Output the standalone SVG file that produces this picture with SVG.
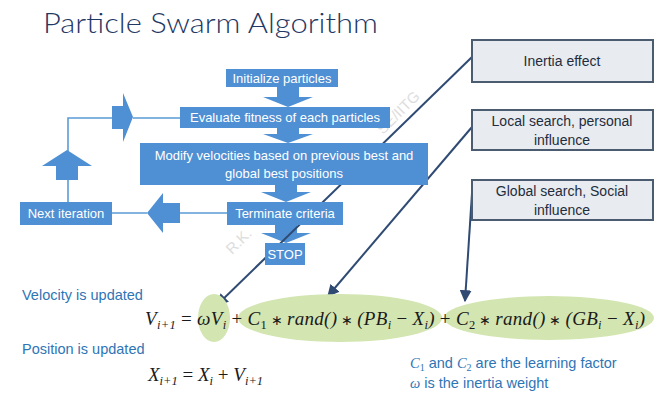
<svg xmlns="http://www.w3.org/2000/svg" width="661" height="396" viewBox="0 0 661 396">
<style>
.fc{fill:#4f8fd3}
.ft{font-family:"Liberation Sans",Arial,sans-serif;font-size:13px;fill:#ffffff;text-anchor:middle}
.loop{stroke:#5b9bd5;stroke-width:1.6;fill:none}
.cbox{fill:#e8ebf0;stroke:#4b5b70;stroke-width:2}
.ct{font-family:"Liberation Sans",Arial,sans-serif;font-size:14px;fill:#1f2d3d;text-anchor:middle}
.conn{stroke:#2f4b73;stroke-width:2;fill:none;marker-end:url(#ah)}
.blue{font-family:"Liberation Sans",Arial,sans-serif;font-size:14.5px;fill:#2e75b6}
.eq{font-family:"Liberation Serif","Times New Roman",serif;font-style:italic;font-size:19px;fill:#1a1a1a}
.sub{font-size:12.5px}
.op{font-style:normal}
.st{font-style:normal;font-size:14px}
.ell{fill:#d3e5b1}
.wm{font-family:"Liberation Sans",Arial,sans-serif;font-size:15px;fill:#c8c8c8;opacity:0.6}
</style>
<defs>
<marker id="ah" viewBox="0 0 10 10" refX="9" refY="5" markerWidth="6" markerHeight="6" orient="auto-start-reverse">
<path d="M0,0 L10,5 L0,10 z" fill="#2f4b73"/>
</marker>
</defs>
<rect width="661" height="396" fill="#ffffff"/>
<text x="43" y="33" font-family="Lato, Liberation Sans, Arial, sans-serif" font-weight="300" font-size="28" fill="#1f3864" textLength="335" lengthAdjust="spacingAndGlyphs">Particle Swarm Algorithm</text>

<g id="watermark">
<text class="wm" transform="translate(232,255) rotate(-45)">R.K.</text>
<text class="wm" transform="translate(383,135) rotate(-45)">SE/IITG</text>
</g>

<g id="connectors">
<path class="loop" d="M68,202 V118 H112 M133,118 H180 M112,213 H147 M180,213 H227"/>
<path class="fc" d="M277,87 H299 V97 H313 L288,107 L263,97 H277 Z"/>
<path class="fc" d="M277,128 H299 V134 H313 L288,143 L263,134 H277 Z"/>
<path class="fc" d="M275,185 H297 V192 H311 L286,202 L261,192 H275 Z"/>
<path class="fc" d="M275,225 H297 V233 H311 L286,243 L261,233 H275 Z"/>
<path class="fc" d="M180,203 V223 H163 V233 L147,213 L163,193 V203 Z"/>
<path class="fc" d="M56,180 V166 H42 L67,150 L92,166 H78 V180 Z"/>
<path class="fc" d="M112,106 H123 V93 L133,117 L123,142 V129 H112 Z"/>
<path class="conn" d="M472,57 L217,305"/>
<path class="conn" d="M472,127 L328,296"/>
<path class="conn" d="M472,193 L465,301"/>
</g>

<g id="n-init"><rect class="fc" x="226" y="69" width="112" height="18"/><text class="ft" x="282" y="82.5">Initialize particles</text></g>
<g id="n-eval"><rect class="fc" x="180" y="107" width="210" height="21"/><text class="ft" x="285" y="122">Evaluate fitness of each particles</text></g>
<g id="n-modify"><rect class="fc" x="140" y="143" width="288" height="42"/><text class="ft" x="284" y="160">Modify velocities based on previous best and</text><text class="ft" x="284" y="178">global best positions</text></g>
<g id="n-term"><rect class="fc" x="227" y="202" width="116" height="23"/><text class="ft" x="285" y="218">Terminate criteria</text></g>
<g id="n-stop"><rect class="fc" x="265" y="243" width="40" height="22"/><text class="ft" x="285" y="258.5">STOP</text></g>
<g id="n-next"><rect class="fc" x="20" y="202" width="92" height="23"/><text class="ft" x="66" y="218">Next iteration</text></g>

<g id="n-inertia"><rect class="cbox" x="472" y="40" width="181" height="42"/><text class="ct" x="562" y="66">Inertia effect</text></g>
<g id="n-local"><rect class="cbox" x="472" y="110" width="181" height="40"/><text class="ct" x="562" y="126">Local search, personal</text><text class="ct" x="562" y="145">influence</text></g>
<g id="n-global"><rect class="cbox" x="472" y="180" width="181" height="40"/><text class="ct" x="562" y="196">Global search, Social</text><text class="ct" x="562" y="215">influence</text></g>

<g id="equations">
<ellipse class="ell" cx="214" cy="318" rx="16" ry="24"/>
<ellipse class="ell" cx="340" cy="318" rx="102" ry="24"/>
<ellipse class="ell" cx="549" cy="318" rx="105" ry="22"/>
<text class="blue" x="22" y="300">Velocity is updated</text>
<text class="blue" x="22" y="354">Position is updated</text>
<text class="eq" x="145" y="325" textLength="500" lengthAdjust="spacing">V<tspan class="sub" dy="4">i+1</tspan><tspan class="op" dy="-4"> = </tspan>ωV<tspan class="sub" dy="4">i</tspan><tspan class="op" dy="-4"> + </tspan>C<tspan class="sub op" dy="4">1</tspan><tspan class="st" dy="-4"> ∗ </tspan>rand()<tspan class="st"> ∗ </tspan>(PB<tspan class="sub" dy="4">i</tspan><tspan class="op" dy="-4"> − </tspan>X<tspan class="sub" dy="4">i</tspan><tspan dy="-4">)</tspan><tspan class="op"> + </tspan>C<tspan class="sub op" dy="4">2</tspan><tspan class="st" dy="-4"> ∗ </tspan>rand()<tspan class="st"> ∗ </tspan>(GB<tspan class="sub" dy="4">i</tspan><tspan class="op" dy="-4"> − </tspan>X<tspan class="sub" dy="4">i</tspan><tspan dy="-4">)</tspan></text>
<text class="eq" x="148" y="381">X<tspan class="sub" dy="4">i+1</tspan><tspan class="op" dy="-4"> = </tspan>X<tspan class="sub" dy="4">i</tspan><tspan class="op" dy="-4"> + </tspan>V<tspan class="sub" dy="4">i+1</tspan></text>
<text class="blue" x="410" y="368"><tspan font-family="Liberation Serif, serif" font-style="italic">C<tspan font-size="10" dy="3" font-style="normal">1</tspan></tspan><tspan dy="-3"> and </tspan><tspan font-family="Liberation Serif, serif" font-style="italic">C<tspan font-size="10" dy="3" font-style="normal">2</tspan></tspan><tspan dy="-3"> are the learning factor</tspan></text>
<text class="blue" x="410" y="388"><tspan font-family="Liberation Serif, serif" font-style="italic">ω</tspan> is the inertia weight</text>
</g>
</svg>
